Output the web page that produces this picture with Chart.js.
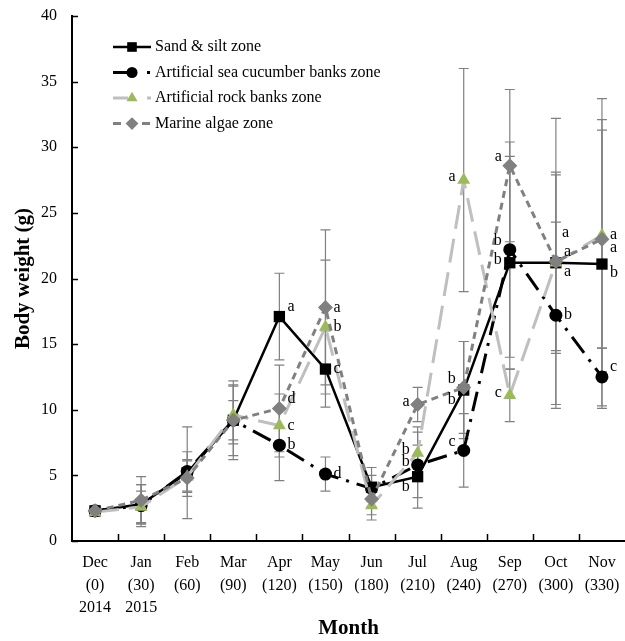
<!DOCTYPE html>
<html><head><meta charset="utf-8">
<script src="https://cdn.jsdelivr.net/npm/chart.js@4/dist/chart.umd.min.js"></script>
<style>html,body{margin:0;padding:0;background:#fff}</style>
</head><body>
<canvas id="c" width="625" height="641" style="display:block;width:625px;height:641px"></canvas>
<script>
// ---------- data ----------
const months = ['Dec','Jan','Feb','Mar','Apr','May','Jun','Jul','Aug','Sep','Oct','Nov'];
const days   = ['(0)','(30)','(60)','(90)','(120)','(150)','(180)','(210)','(240)','(270)','(300)','(330)'];
const years  = ['2014','2015','','','','','','','','','',''];
const yTicks = [0,5,10,15,20,25,30,35,40];

const sandSilt      = [2.3, 2.8, 5.2, 9.2, 17.1, 13.1, 4.1, 4.9, 11.5, 21.2, 21.2, 21.1];
const sandSiltSD    = [0.3, 1.5, 3.5, 3.0, 3.3, 2.9, 1.5, 2.4, 3.7, 8.1, 6.9, 11.0];
const sandSiltSig   = ['','','','','a','c','','b','b','b','a','b'];

const cucumber      = [2.3, 2.7, 5.3, 9.2, 7.3, 5.1, 4.0, 5.8, 6.9, 22.2, 17.2, 12.5];
const cucumberSD    = [0.3, 1.6, 1.5, 2.7, 2.7, 1.3, 1.0, 2.5, 2.8, 8.2, 7.1, 2.2];
const cucumberSig   = ['','','','','b','d','','b','c','b','b','c'];

const rockBanks     = [2.2, 2.6, 4.9, 9.6, 8.8, 16.3, 2.7, 6.7, 27.5, 11.1, 21.2, 23.3];
const rockBanksSD   = [0.3, 1.2, 1.2, 2.2, 2.4, 5.1, 1.1, 2.0, 8.5, 2.0, 6.7, 10.4];
const rockBanksSig  = ['','','','','c','b','','b','a','c','a','a'];

const algae         = [2.3, 3.1, 4.8, 9.2, 10.1, 17.8, 3.2, 10.4, 11.7, 28.6, 21.3, 23.0];
const algaeSD       = [0.3, 1.8, 1.4, 1.5, 3.3, 5.9, 1.2, 1.3, 3.5, 5.8, 10.9, 8.3];
const algaeSig      = ['','','','','d','a','','a','b','a','a','a'];

// letter placement codes (relative to the point)
const sandSiltSigPos  = ['','','','','ru','r','','ld','ld','l','rd','rd'];
const cucumberSigPos  = ['','','','','r','r','','l','lu','lu','r','ru'];
const rockBanksSigPos = ['','','','','r','r','','l','l','l','ruu','r'];
const algaeSigPos     = ['','','','','ru','r','','l','lu','lu','ru','rd'];

const FONT = '"Liberation Serif", "Times New Roman", serif';

const series = [
  {label:'Sand & silt zone', data:sandSilt, sd:sandSiltSD, sig:sandSiltSig, pos:sandSiltSigPos,
   borderColor:'#000', backgroundColor:'#000', borderWidth:2.5, borderDash:[], legendDash:[],
   pointStyle:'rect', pointRadius:8, order:3},
  {label:'Artificial sea cucumber banks zone', data:cucumber, sd:cucumberSD, sig:cucumberSig, pos:cucumberSigPos,
   borderColor:'#000', backgroundColor:'#000', borderWidth:3, borderDash:[20,8,3,8], legendDash:[16,18,3,20],
   pointStyle:'circle', pointRadius:6.5, order:2},
  {label:'Artificial rock banks zone', data:rockBanks, sd:rockBanksSD, sig:rockBanksSig, pos:rockBanksSigPos,
   borderColor:'#bfbfbf', backgroundColor:'#9bbb59', borderWidth:3, borderDash:[24,10], legendDash:[15,19,4,20],
   pointStyle:'triangle', pointRadius:7.5, order:1},
  {label:'Marine algae zone', data:algae, sd:algaeSD, sig:algaeSig, pos:algaeSigPos,
   borderColor:'#808080', backgroundColor:'#808080', borderWidth:3, borderDash:[7,5], legendDash:[8,5,0,0,0,16,8,20],
   pointStyle:'rectRot', pointRadius:7.5, order:0}
];

const datasets = series.map(s => ({
  label:s.label, data:s.data, borderColor:s.borderColor, backgroundColor:s.backgroundColor,
  pointBackgroundColor:s.backgroundColor, pointBorderColor:s.backgroundColor, pointBorderWidth:0,
  borderWidth:s.borderWidth, borderDash:s.borderDash, pointStyle:s.pointStyle,
  pointRadius:s.pointRadius, pointHoverRadius:s.pointRadius, order:s.order, tension:0, fill:false,
  _sd:s.sd, _sig:s.sig, _pos:s.pos
}));

// ---------- plugins ----------
const errorBars = {
  id:'errorBars',
  beforeDatasetsDraw(chart){
    const ctx = chart.ctx, y = chart.scales.y;
    ctx.save();
    ctx.strokeStyle = '#808080'; ctx.lineWidth = 1.2;
    chart.data.datasets.forEach((ds, di) => {
      const meta = chart.getDatasetMeta(di);
      ds.data.forEach((v, i) => {
        const sd = ds._sd[i]; if (!sd) return;
        const x = meta.data[i].x;
        const t = y.getPixelForValue(v + sd), b = y.getPixelForValue(v - sd);
        ctx.beginPath();
        ctx.moveTo(x, t); ctx.lineTo(x, b);
        ctx.moveTo(x - 5, t); ctx.lineTo(x + 5, t);
        ctx.moveTo(x - 5, b); ctx.lineTo(x + 5, b);
        ctx.stroke();
      });
    });
    ctx.restore();
  }
};

const innerTicks = {
  id:'innerTicks',
  afterDraw(chart){
    const ctx = chart.ctx, a = chart.chartArea, xs = chart.scales.x, ys = chart.scales.y;
    ctx.save(); ctx.strokeStyle = '#000'; ctx.lineWidth = 1.5;
    ctx.beginPath();
    ys.ticks.forEach(t => { const py = Math.round(ys.getPixelForValue(t.value)) + 0.5; ctx.moveTo(a.left, py); ctx.lineTo(a.left + 6, py); });
    for (let i = 0; i < months.length - 1; i++) {
      const px = Math.round((xs.getPixelForValue(i) + xs.getPixelForValue(i + 1)) / 2) + 0.5;
      ctx.moveTo(px, a.bottom); ctx.lineTo(px, a.bottom - 7);
    }
    ctx.stroke(); ctx.restore();
  }
};

const sigLetters = {
  id:'sigLetters',
  afterDatasetsDraw(chart){
    const ctx = chart.ctx;
    ctx.save(); ctx.fillStyle = '#000'; ctx.font = '16px ' + FONT; ctx.textBaseline = 'middle';
    const place = {r:[8,0,'left'], ru:[8,-10,'left'], rd:[8,9,'left'], ruu:[6,-30,'left'],
                   l:[-8,-3,'right'], lu:[-8,-9,'right'], ld:[-8,10,'right']};
    chart.data.datasets.forEach((ds, di) => {
      const meta = chart.getDatasetMeta(di);
      ds._sig.forEach((s, i) => {
        if (!s) return;
        const p = place[ds._pos[i]], pt = meta.data[i];
        ctx.textAlign = p[2];
        ctx.fillText(s, pt.x + p[0], pt.y + p[1]);
      });
    });
    ctx.restore();
  }
};

const customLegend = {
  id:'customLegend',
  afterDraw(chart){
    const ctx = chart.ctx;
    ctx.save();
    series.forEach((s, k) => {
      const cy = 47 + k * 25.5;
      ctx.strokeStyle = s.borderColor; ctx.lineWidth = s.borderWidth;
      ctx.setLineDash(s.legendDash);
      ctx.beginPath(); ctx.moveTo(113, cy); ctx.lineTo(151, cy); ctx.stroke();
      ctx.setLineDash([]);
      ctx.fillStyle = s.backgroundColor;
      Chart.helpers.drawPoint(ctx, {pointStyle:s.pointStyle, radius:s.pointRadius * 0.85, borderWidth:0,
        backgroundColor:s.backgroundColor, borderColor:s.backgroundColor}, 132, cy);
      ctx.fillStyle = '#000'; ctx.font = '16px ' + FONT; ctx.textAlign = 'left'; ctx.textBaseline = 'middle';
      ctx.fillText(s.label, 155, cy);
    });
    ctx.restore();
  }
};

new Chart(document.getElementById('c'), {
  type:'line',
  data:{ labels: months.map((m, i) => [m, days[i], years[i]]), datasets },
  options:{
    responsive:false, animation:false, devicePixelRatio:1,
    layout:{ autoPadding:false, padding:{ top:16, right:0, left:0, bottom:0 } },
    plugins:{ legend:{display:false}, tooltip:{enabled:false} },
    scales:{
      x:{
        offset:true,
        grid:{ display:false, drawTicks:false },
        border:{ display:true, color:'#000', width:2 },
        ticks:{ color:'#000', font:{ family:FONT, size:16, lineHeight:1.4 }, padding:11, maxRotation:0, autoSkip:false },
        title:{ display:true, text:'Month', color:'#000', font:{ family:FONT, size:21, weight:'bold' }, padding:{top:0,bottom:0} },
        afterFit(s){ s.height = 100; s.paddingLeft = 0; s.paddingRight = 0; }
      },
      y:{
        min:0, max:40,
        afterBuildTicks(s){ s.ticks = yTicks.map(v => ({value:v})); },
        grid:{ display:false, drawTicks:false },
        border:{ display:true, color:'#000', width:2 },
        ticks:{ color:'#000', font:{ family:FONT, size:16 }, padding:15 },
        title:{ display:true, text:'Body weight (g)', color:'#000', font:{ family:FONT, size:21, weight:'bold' }, padding:{top:11,bottom:0} },
        afterFit(s){ s.width = 72; s.paddingTop = 0; s.paddingBottom = 0; }
      }
    }
  },
  plugins:[errorBars, sigLetters, innerTicks, customLegend]
});
</script>
</body></html>
